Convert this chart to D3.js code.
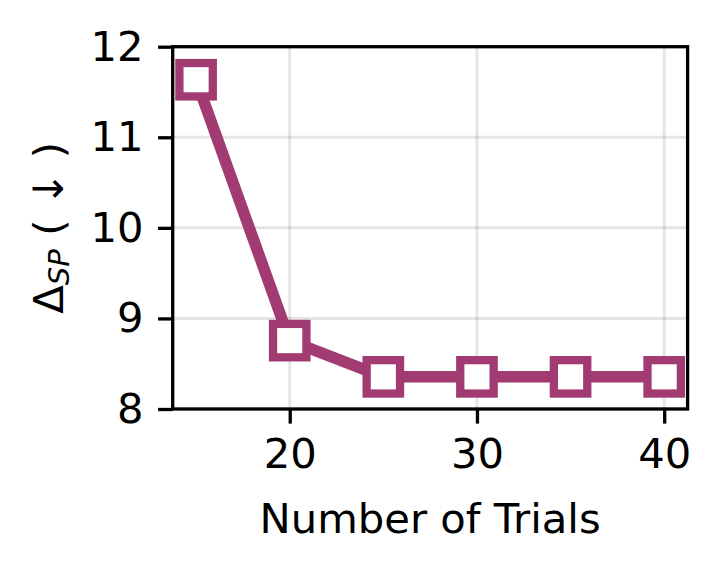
<!DOCTYPE html>
<html>
<head>
<meta charset="utf-8">
<script src="https://cdn.jsdelivr.net/npm/d3@7"></script>
<style>
  body { margin: 0; background: #fff; }
  text { font-family: "DejaVu Sans", sans-serif; fill: #000; }
</style>
</head>
<body>
<svg id="chart" width="719" height="570"></svg>
<script>
// data
const trials = [15, 20, 25, 30, 35, 40];
const deltaSP = [11.635, 8.755, 8.355, 8.355, 8.355, 8.355];
const xTicks = [20, 30, 40];
const yTicks = [8, 9, 10, 11, 12];

const W = 719, H = 570;
const margin = { left: 172.7, top: 46.7, right: W - 687.6, bottom: H - 409 };
const color = "#a23b72";
const fontSize = 41.7;

const svg = d3.select("#chart");
const x = d3.scaleLinear().domain([13.75, 41.25]).range([margin.left, W - margin.right]);
const y = d3.scaleLinear().domain([8, 12]).range([H - margin.bottom, margin.top]);

// grid
const grid = svg.append("g").attr("stroke", "#000").attr("stroke-opacity", 0.1).attr("stroke-width", 3);
grid.selectAll(".gx").data(xTicks).enter().append("line")
  .attr("x1", (d) => x(d)).attr("x2", (d) => x(d))
  .attr("y1", y.range()[0]).attr("y2", y.range()[1]);
grid.selectAll(".gy").data(yTicks).enter().append("line")
  .attr("x1", x.range()[0]).attr("x2", x.range()[1])
  .attr("y1", (d) => y(d)).attr("y2", (d) => y(d));

// line + markers
const pts = trials.map((t, i) => [t, deltaSP[i]]);
svg.append("path")
  .datum(pts)
  .attr("fill", "none")
  .attr("stroke", color)
  .attr("stroke-width", 11.5)
  .attr("stroke-linejoin", "round")
  .attr("d", d3.line().x((d) => x(d[0])).y((d) => y(d[1])));

const ms = 33.4;
svg.selectAll(".mk").data(pts).enter().append("rect")
  .attr("x", (d) => x(d[0]) - ms / 2)
  .attr("y", (d) => y(d[1]) - ms / 2)
  .attr("width", ms).attr("height", ms)
  .attr("fill", "#fff")
  .attr("stroke", color)
  .attr("stroke-width", 8.3);

// axes
const xAxis = d3.axisBottom(x).tickValues(xTicks).tickFormat(d3.format("d"))
  .tickSize(14.6).tickPadding(14.6).tickSizeOuter(0);
const yAxis = d3.axisLeft(y).tickValues(yTicks).tickFormat(d3.format("d"))
  .tickSize(14.6).tickPadding(14.6).tickSizeOuter(0);

const gx = svg.append("g").attr("transform", `translate(0,${y.range()[0]})`).call(xAxis);
const gy = svg.append("g").attr("transform", `translate(${x.range()[0]},0)`).call(yAxis);
[gx, gy].forEach((g) => {
  g.select(".domain").remove();
  g.selectAll(".tick line").attr("stroke", "#000").attr("stroke-width", 3.3);
  g.selectAll(".tick text").attr("font-size", fontSize).attr("font-family", "DejaVu Sans");
});

// frame
svg.append("rect")
  .attr("x", x.range()[0]).attr("y", y.range()[1])
  .attr("width", x.range()[1] - x.range()[0])
  .attr("height", y.range()[0] - y.range()[1])
  .attr("fill", "none").attr("stroke", "#000").attr("stroke-width", 3.3);

// labels
svg.append("text")
  .attr("x", (x.range()[0] + x.range()[1]) / 2)
  .attr("y", 533)
  .attr("text-anchor", "middle")
  .attr("font-size", fontSize)
  .text("Number of Trials");

const yl = svg.append("text")
  .attr("transform", `translate(63,${(y.range()[0] + y.range()[1]) / 2}) rotate(-90)`)
  .attr("text-anchor", "middle")
  .attr("xml:space", "preserve")
  .style("white-space", "pre")
  .attr("font-size", fontSize);
yl.append("tspan").text("Δ");
yl.append("tspan").attr("font-size", fontSize * 0.7).attr("font-style", "italic").attr("dy", 6).text("SP");
yl.append("tspan").attr("dy", -6).text(" ( ↓ )");
</script>
</body>
</html>
